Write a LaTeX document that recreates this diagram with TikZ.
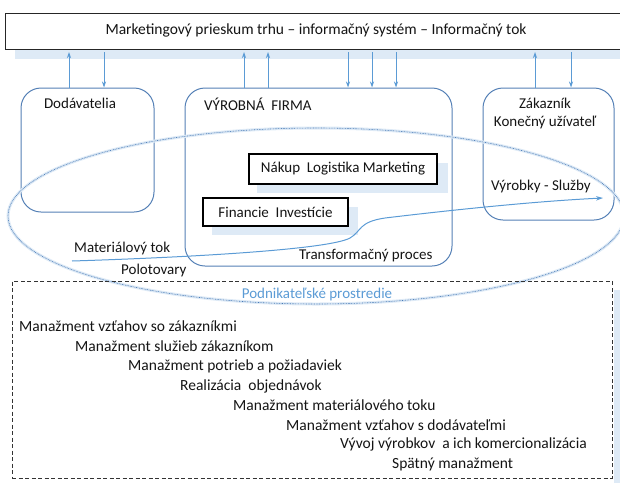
\documentclass[tikz,border=0pt]{standalone}
\usepackage{fontspec}
\setmainfont{Carlito}
\usetikzlibrary{arrows.meta,shapes.geometric}
\definecolor{frameblue}{RGB}{84,128,182}
\definecolor{flowblue}{RGB}{91,155,213}
\definecolor{shadeblue}{RGB}{222,234,246}
\definecolor{ringblue}{RGB}{72,122,182}
\definecolor{textgray}{RGB}{20,20,20}
\begin{document}
\begin{tikzpicture}[x=1pt,y=-1pt,
  every node/.style={font=\fontsize{15}{17}\selectfont, text=textgray, inner sep=0pt},
  infobox/.style={draw=black!85, line width=1pt, fill=white, minimum width=620pt, minimum height=36pt},
  unit/.style={draw=frameblue, line width=1pt, rounded corners=20pt},
  deptbox/.style={draw=black, line width=1.1pt, fill=white},
  shade/.style={fill=shadeblue, draw=none},
  upflow/.style={draw=flowblue, line width=0.9pt, -{Stealth[length=6pt,width=4pt]}},
  flow/.style={draw=flowblue, line width=1pt, -{Stealth[length=7pt,width=4.5pt]}},
  listitem/.style={anchor=west, font=\fontsize{15.5}{17}\selectfont}
]
\useasboundingbox (0,0) rectangle (620,482);
\clip (0,0) rectangle (620,482);

% information system bar with its pale underlay
\path[shade] (15,49) rectangle (625,59);
\node[infobox] (info) at (315,31) {};
\node[font=\fontsize{15.5}{17}\selectfont] (infotxt) at (316,30) {Marketingový prieskum trhu – informačný systém – Informačný tok};
\coordinate (bar) at (0,52);

% the three participants
\node[unit, minimum width=133pt, minimum height=124pt] (dod) at (87.5,150) {};
\node[unit, minimum width=267pt, minimum height=178pt] (firma) at (318.5,177) {};
\node[unit, minimum width=131pt, minimum height=132pt] (zak) at (548.5,154) {};

\node (dodtxt) at (80,103) {Dodávatelia};
\node[anchor=west] (firmatxt) at (204,104) {VÝROBNÁ\ \ FIRMA};
\node (zaktxt) at (545,103) {Zákazník};
\node (uzivtxt) at (545,122) {Konečný užívateľ};

% departments inside the firm
\path[shade] (257,163) rectangle (448,193);
\node[deptbox, minimum width=188pt, minimum height=30pt] (nakup) at (343,169) {Nákup\ \ Logistika Marketing};
\path[shade] (212,207) rectangle (358,235);
\node[deptbox, minimum width=145pt, minimum height=28pt] (fin) at (275.5,212) {Financie\ \ Investície};

% business environment ring
\draw[shadeblue, line width=3pt] (316,216) ellipse [x radius=308pt, y radius=88pt];
\draw[ringblue, line width=0.6pt, dash pattern=on 0.8pt off 0.8pt] (316,216) ellipse [x radius=308pt, y radius=88pt];

% information flows between the bar and the participants
\draw[upflow] (dod.north -| 69,0) -- (bar -| 69,0);
\draw[upflow] (bar -| 104,0) -- (dod.north -| 104,0);
\draw[upflow] (firma.north -| 244,0) -- (bar -| 244,0);
\draw[upflow] (firma.north -| 268,0) -- (bar -| 268,0);
\draw[upflow] (bar -| 348,0) -- (firma.north -| 348,0);
\draw[upflow] (bar -| 372,0) -- (firma.north -| 372,0);
\draw[upflow] (bar -| 396,0) -- (firma.north -| 396,0);
\draw[upflow] (zak.north -| 535,0) -- (bar -| 535,0);
\draw[upflow] (bar -| 571,0) -- (zak.north -| 571,0);

% material flow
\coordinate (mstart) at (72,261);
\coordinate (mend) at (603,198);
\draw[flow] (mstart) .. controls (200,257) and (330,249) .. (350,238)
  .. controls (362,231) and (358,222) .. (385,218)
  .. controls (460,209) and (540,201) .. (mend);

\node (vyrtxt) at (541,186) {Výrobky - Služby};
\node[anchor=west] (mattxt) at (74,248) {Materiálový tok};
\node[anchor=west] (polotxt) at (121,270) {Polotovary};
\node[anchor=west] (transtxt) at (299,256) {Transformačný proces};

% business environment panel
\path[shade] (614,290) rectangle (625,490);
\node[draw=black!80, line width=0.9pt, dash pattern=on 4pt off 2.5pt, minimum width=600pt, minimum height=197pt] (env) at (312,379.5) {};
\node[text=flowblue] (envtxt) at (317,294) {Podnikateľské prostredie};

\node[listitem] (l1) at (19,326) {Manažment vzťahov so zákazníkmi};
\node[listitem] (l2) at (75,346) {Manažment služieb zákazníkom};
\node[listitem] (l3) at (128,366) {Manažment potrieb a požiadaviek};
\node[listitem] (l4) at (180,386) {Realizácia\ \ objednávok};
\node[listitem] (l5) at (233,405) {Manažment materiálového toku};
\node[listitem] (l6) at (286,425) {Manažment vzťahov s dodávateľmi};
\node[listitem] (l7) at (340,444) {Vývoj výrobkov\ \ a ich komercionalizácia};
\node[listitem] (l8) at (392,464) {Spätný manažment};
\end{tikzpicture}
\end{document}
